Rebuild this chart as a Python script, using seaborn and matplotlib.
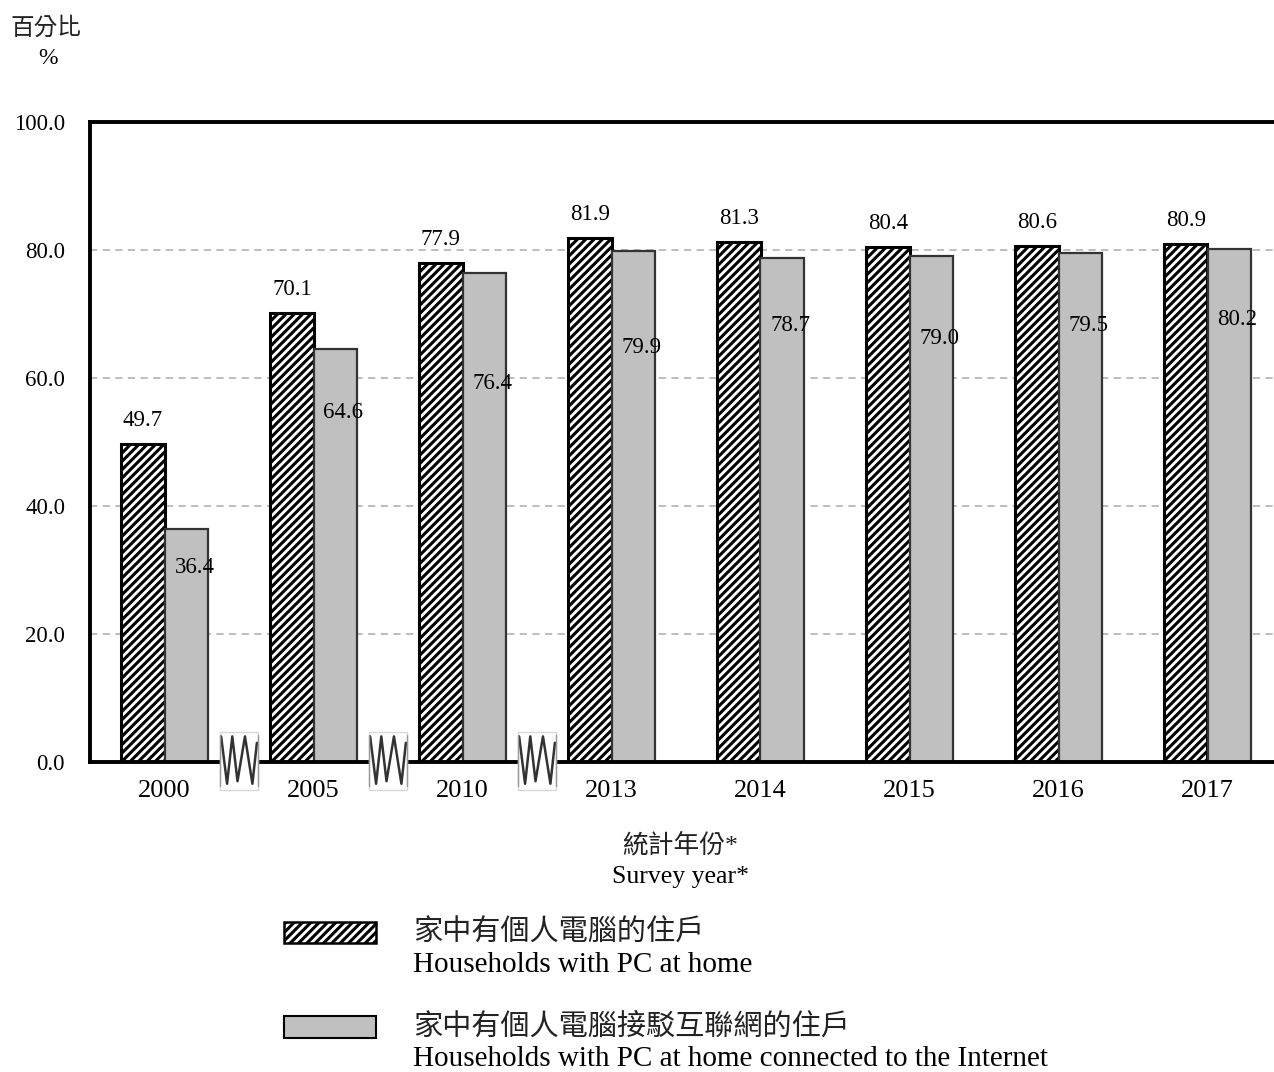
import pandas as pd
import seaborn as sns
import matplotlib.pyplot as plt
from matplotlib.patches import Rectangle
from matplotlib.lines import Line2D

years = ["2000", "2005", "2010", "2013", "2014", "2015", "2016", "2017"]
pc_home = [49.7, 70.1, 77.9, 81.9, 81.3, 80.4, 80.6, 80.9]
pc_internet = [36.4, 64.6, 76.4, 79.9, 78.7, 79.0, 79.5, 80.2]
series_names = ["家中有個人電腦的住戶\nHouseholds with PC at home",
                "家中有個人電腦接駁互聯網的住戶\nHouseholds with PC at home connected to the Internet"]
yticks = [0, 20, 40, 60, 80, 100]
break_after = [0, 1, 2]  # axis breaks between 2000/2005, 2005/2010, 2010/2013

# manual label drop (px below bar top) for the grey bars, as placed in the original
grey_label_drop = [38, 64, 110, 97, 67, 82, 72, 71]

df = pd.DataFrame({
    "year": years * 2,
    "value": pc_home + pc_internet,
    "series": [series_names[0]] * len(years) + [series_names[1]] * len(years),
})

sns.set_style("white")
plt.rcParams['font.family'] = ['Liberation Serif', 'Noto Sans CJK TC']
plt.rcParams['font.weight'] = 'light'
plt.rcParams['hatch.linewidth'] = 2.2
for k in ['text.color', 'xtick.color', 'ytick.color', 'axes.labelcolor']:
    plt.rcParams[k] = 'black'

fig = plt.figure(figsize=(12.74, 10.72), dpi=100)
W, H = 1274, 1072
ax = fig.add_axes([90 / W, 1 - 762 / H, 1192 / W, 640 / H])

sns.barplot(data=df, x="year", y="value", hue="series", hue_order=series_names,
            palette=["white", "#c0c0c0"], saturation=1, width=0.58,
            edgecolor="#333333", linewidth=1.6, legend=False, ax=ax)

# hatched first series
for bar in ax.containers[0]:
    bar.set_hatch("////")
    bar.set_edgecolor("black")
    bar.set_linewidth(2.2)

# value labels
for bar, v in zip(ax.containers[0], pc_home):
    ax.annotate(f"{v:.1f}", (bar.get_x() + bar.get_width() / 2, bar.get_height()),
                xytext=(0, 17), textcoords="offset points", ha="center", va="center",
                fontsize=16.5)
for bar, v, d in zip(ax.containers[1], pc_internet, grey_label_drop):
    ax.annotate(f"{v:.1f}", (bar.get_x() + bar.get_width() / 2, bar.get_height()),
                xytext=(6, -d * 0.72), textcoords="offset points", ha="center", va="center",
                fontsize=16.5)

ax.set_ylim(0, 100)
ax.set_xlim(-0.5, len(years) - 0.5)
ax.set_yticks(yticks)
ax.set_yticklabels([f"{t:.1f}" for t in yticks])
ax.tick_params(axis="both", length=0)
ax.tick_params(axis="x", pad=13, labelsize=19)
ax.tick_params(axis="y", pad=18, labelsize=16.5)
ax.set_xlabel("")
ax.set_ylabel("")

ax.yaxis.grid(True, linestyle=(0, (4, 3)), color="#b8b8b8", linewidth=1.3)
ax.set_axisbelow(True)

for s in ["left", "top", "bottom"]:
    ax.spines[s].set_linewidth(2.8)
    ax.spines[s].set_color("black")
ax.spines["right"].set_visible(False)

# axis break markers
for i in break_after:
    xc = i + 0.5
    ax.add_patch(Rectangle((xc - 0.128, -4.3), 0.256, 9.0, facecolor="white",
                           edgecolor="#d8d8d8", linewidth=1.0, clip_on=False, zorder=5))
    zx = [xc - 0.12, xc - 0.08, xc - 0.045, xc - 0.01, xc + 0.04, xc + 0.09, xc + 0.12]
    zy = [4.0, -3.4, 4.0, -3.0, 4.0, -3.4, 3.0]
    ax.add_line(Line2D(zx, zy, color="#333333", linewidth=1.8, clip_on=False, zorder=6))
    for side in (-0.125, 0.125):
        ax.add_line(Line2D([xc + side, xc + side], [-3.8, 4.2], color="#999999", linewidth=1.0,
                           clip_on=False, zorder=6))

# y unit label
fig.text(10 / W, 1 - 28 / H, "百分比", fontsize=17, ha="left", va="center", color="#222222")
fig.text(48 / W, 1 - 59 / H, "%", fontsize=17, ha="center", va="center")

# x label
fig.text(680 / W, 1 - 845 / H, "統計年份*", fontsize=18.5, ha="center", va="center",
         color="#222222")
fig.text(680 / W, 1 - 877 / H, "Survey year*", fontsize=18.5, ha="center", va="center")

# legend
leg_y = [(922, 943), (1016, 1038)]
leg_text_y = [(933, 965), (1027, 1059)]
for k, name in enumerate(series_names):
    y0, y1 = leg_y[k]
    r = Rectangle((284 / W, 1 - y1 / H), 92 / W, (y1 - y0) / H, transform=fig.transFigure,
                  facecolor="white" if k == 0 else "#c0c0c0",
                  edgecolor="black", linewidth=1.8 if k == 0 else 1.5,
                  hatch="////" if k == 0 else None)
    fig.patches.append(r)
    zh, en = name.split("\n")
    fig.text(413 / W, 1 - leg_text_y[k][0] / H, zh, fontsize=21, ha="left", va="center",
             color="#222222")
    fig.text(413 / W, 1 - leg_text_y[k][1] / H, en, fontsize=21, ha="left", va="center")

fig.savefig("out.png", dpi=100)
